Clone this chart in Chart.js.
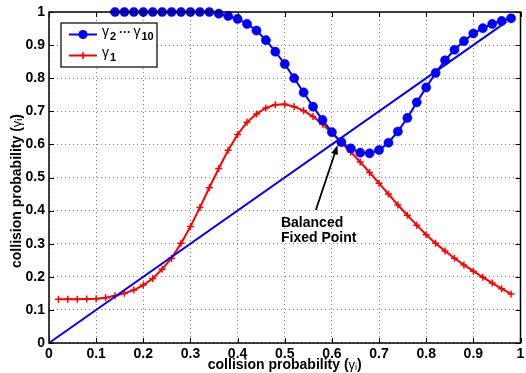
<!DOCTYPE html>
<html>
<head>
<meta charset="UTF-8">
<title>collision probability</title>
<script src="https://cdn.jsdelivr.net/npm/chart.js"></script>
<style>
  html, body { margin: 0; padding: 0; background: #fff; }
  canvas { display: block; }
</style>
</head>
<body>
<canvas id="c" width="526" height="373"></canvas>
<script>
// gamma_1 (red, plus markers)
const redX = [0.02,0.04,0.06,0.08,0.10,0.12,0.14,0.16,0.18,0.20,0.22,0.24,0.26,0.28,
  0.30,0.32,0.34,0.36,0.38,0.40,0.42,0.44,0.46,0.48,0.50,0.52,0.54,0.56,0.58,0.60,
  0.62,0.64,0.66,0.68,0.70,0.72,0.74,0.76,0.78,0.80,0.82,0.84,0.86,
  0.88,0.90,0.92,0.94,0.96,0.98];
const redY = [0.132,0.132,0.132,0.133,0.134,0.137,0.143,0.150,0.160,0.175,0.195,0.223,0.256,0.301,
  0.352,0.409,0.469,0.527,0.582,0.630,0.667,0.692,0.710,0.720,0.721,0.714,0.702,0.684,0.661,0.634,
  0.605,0.577,0.547,0.515,0.483,0.450,0.417,0.386,0.356,0.327,0.301,0.278,0.256,
  0.236,0.217,0.199,0.181,0.164,0.148];

// gamma_2 ... gamma_10 (blue, circles)
const blueX = [0.14,0.16,0.18,0.20,0.22,0.24,0.26,0.28,0.30,0.32,0.34,
  0.36,0.38,0.40,0.42,0.44,0.46,0.48,0.50,0.52,0.54,0.56,0.58,0.60,0.62,0.64,0.66,
  0.68,0.70,0.72,0.74,0.76,0.78,0.80,0.82,0.84,0.86,0.88,0.90,0.92,0.94,0.96,0.98];
const blueY = [1,1,1,1,1,1,1,1,1,1,1,
  0.995,0.988,0.979,0.964,0.944,0.915,0.880,0.843,0.800,0.757,0.714,0.674,0.637,0.607,0.588,0.575,
  0.573,0.583,0.605,0.639,0.680,0.727,0.772,0.816,0.854,0.886,0.912,0.935,0.951,0.964,0.973,0.981];

// y = x reference line
const diagX = [0, 0.97];
const diagY = [0, 0.97];

const xTicks = [0,0.1,0.2,0.3,0.4,0.5,0.6,0.7,0.8,0.9,1];
const yTicks = [0,0.1,0.2,0.3,0.4,0.5,0.6,0.7,0.8,0.9,1];
const tickLabels = ['0','0.1','0.2','0.3','0.4','0.5','0.6','0.7','0.8','0.9','1'];

const pts = (xs, ys) => xs.map((x, i) => ({x: x, y: ys[i]}));
const FONT = '"Liberation Sans", Arial, Helvetica, sans-serif';

// text with subscripts: parts = [[text, font, dy], ...]
function richText(ctx, parts, x, y) {
  let w = 0;
  parts.forEach(p => { ctx.font = p[1]; w += ctx.measureText(p[0]).width; });
  let cx = x - w / 2;
  parts.forEach(p => {
    ctx.font = p[1];
    ctx.fillText(p[0], cx, y + (p[2] || 0));
    cx += ctx.measureText(p[0]).width;
  });
}

const decor = {
  id: 'decor',
  afterDatasetsDraw(chart) {
    const ctx = chart.ctx;
    const a = chart.chartArea;
    const sx = chart.scales.x, sy = chart.scales.y;
    ctx.save();
    ctx.strokeStyle = '#000';
    ctx.lineWidth = 1;
    // inward tick marks
    ctx.beginPath();
    xTicks.forEach(v => {
      const px = Math.round(sx.getPixelForValue(v)) + 0.5;
      ctx.moveTo(px, a.bottom); ctx.lineTo(px, a.bottom - 5);
      ctx.moveTo(px, a.top); ctx.lineTo(px, a.top + 5);
    });
    yTicks.forEach(v => {
      const py = Math.round(sy.getPixelForValue(v)) + 0.5;
      ctx.moveTo(a.left, py); ctx.lineTo(a.left + 5, py);
      ctx.moveTo(a.right, py); ctx.lineTo(a.right - 5, py);
    });
    ctx.stroke();
    // box
    ctx.lineWidth = 1.5;
    ctx.strokeRect(a.left, a.top, a.right - a.left, a.bottom - a.top);

    // arrow to the fixed point
    const x0 = sx.getPixelForValue(0.566), y0 = sy.getPixelForValue(0.402);
    const x1 = sx.getPixelForValue(0.612), y1 = sy.getPixelForValue(0.598);
    const ang = Math.atan2(y1 - y0, x1 - x0);
    ctx.lineWidth = 1.8;
    ctx.beginPath();
    ctx.moveTo(x0, y0);
    ctx.lineTo(x1 - 7 * Math.cos(ang), y1 - 7 * Math.sin(ang));
    ctx.stroke();
    ctx.fillStyle = '#000';
    ctx.beginPath();
    ctx.moveTo(x1, y1);
    ctx.lineTo(x1 - 10 * Math.cos(ang - 0.35), y1 - 10 * Math.sin(ang - 0.35));
    ctx.lineTo(x1 - 10 * Math.cos(ang + 0.35), y1 - 10 * Math.sin(ang + 0.35));
    ctx.closePath();
    ctx.fill();

    ctx.font = 'bold 14px ' + FONT;
    ctx.textBaseline = 'middle';
    ctx.textAlign = 'left';
    const tx = sx.getPixelForValue(0.492);
    ctx.fillText('Balanced', tx, sy.getPixelForValue(0.361));
    ctx.fillText('Fixed Point', tx, sy.getPixelForValue(0.318));

    // legend
    ctx.fillStyle = '#fff';
    ctx.fillRect(61, 23, 96, 44);
    ctx.lineWidth = 1.2;
    ctx.strokeStyle = '#000';
    ctx.strokeRect(61, 23, 96, 44);
    ctx.lineWidth = 2;
    ctx.strokeStyle = '#0000ff';
    ctx.beginPath(); ctx.moveTo(69, 34.5); ctx.lineTo(97, 34.5); ctx.stroke();
    ctx.fillStyle = '#0000ff';
    ctx.beginPath(); ctx.arc(83, 34.5, 4.6, 0, Math.PI * 2); ctx.fill();
    ctx.strokeStyle = '#ff0000';
    ctx.beginPath(); ctx.moveTo(69, 55.5); ctx.lineTo(97, 55.5); ctx.stroke();
    ctx.lineWidth = 1.5;
    ctx.beginPath();
    ctx.moveTo(79.5, 55.5); ctx.lineTo(86.5, 55.5);
    ctx.moveTo(83, 52); ctx.lineTo(83, 59);
    ctx.stroke();

    ctx.fillStyle = '#000';
    ctx.textAlign = 'left';
    ctx.textBaseline = 'alphabetic';
    const g = '14px ' + FONT, s = 'bold 11px ' + FONT;
    ctx.font = g; ctx.fillText('\u03b3', 102, 36);
    ctx.font = s; ctx.fillText('2', 110, 40);
    ctx.font = 'bold 12px ' + FONT; ctx.fillText('\u00b7\u00b7\u00b7', 119, 36);
    ctx.font = g; ctx.fillText('\u03b3', 133.5, 36);
    ctx.font = s; ctx.fillText('10', 141.5, 40);
    ctx.font = g; ctx.fillText('\u03b3', 102, 57);
    ctx.font = s; ctx.fillText('1', 110, 61);

    // axis titles
    const tf = 'bold 14px ' + FONT, gf = '13px ' + FONT, sf = '9px ' + FONT;
    const title = [['collision probability (', tf], ['\u03b3', gf], ['i', sf, 3], [')', tf]];
    ctx.textBaseline = 'middle';
    richText(ctx, title, (a.left + a.right) / 2, 365);
    ctx.translate(17, 191);
    ctx.rotate(-Math.PI / 2);
    richText(ctx, title, 0, 0);
    ctx.restore();
  }
};

new Chart(document.getElementById('c'), {
  type: 'line',
  data: {
    datasets: [
      {
        label: '\u03b3\u2082 \u00b7\u00b7\u00b7 \u03b3\u2081\u2080',
        data: pts(blueX, blueY),
        borderColor: '#0000ff',
        backgroundColor: '#0000ff',
        borderWidth: 2,
        pointStyle: 'circle',
        pointRadius: 4.6,
        pointBorderWidth: 0.5,
        clip: false
      },
      {
        label: 'y = x',
        data: pts(diagX, diagY),
        borderColor: '#0000ff',
        borderWidth: 2,
        pointRadius: 0,
        clip: false
      },
      {
        label: '\u03b3\u2081',
        data: pts(redX, redY),
        borderColor: '#ff0000',
        backgroundColor: '#ff0000',
        borderWidth: 2,
        pointStyle: 'cross',
        pointRadius: 3.5,
        pointBorderWidth: 1.5,
        clip: false
      }
    ]
  },
  options: {
    responsive: false,
    animation: false,
    devicePixelRatio: 1,
    layout: { padding: { top: 12, right: 2.5, left: 0, bottom: 0 } },
    plugins: { legend: { display: false }, tooltip: { enabled: false } },
    scales: {
      x: {
        type: 'linear',
        min: 0, max: 1,
        afterBuildTicks: s => { s.ticks = xTicks.map(v => ({value: v})); },
        afterFit: s => { s.height = 30; s.paddingLeft = 0; s.paddingRight = 0; },
        ticks: {
          padding: 3,
          maxRotation: 0,
          autoSkip: false,
          color: '#000',
          font: { family: FONT, size: 14, weight: 'bold' },
          callback: (v, i) => tickLabels[i]
        },
        grid: { color: '#8a8a8a', drawTicks: false, lineWidth: 1 },
        border: { display: false, dash: [1, 3] }
      },
      y: {
        type: 'linear',
        min: 0, max: 1,
        afterBuildTicks: s => { s.ticks = yTicks.map(v => ({value: v})); },
        afterFit: s => { s.width = 49; s.paddingTop = 0; s.paddingBottom = 0; },
        ticks: {
          padding: 4,
          autoSkip: false,
          color: '#000',
          font: { family: FONT, size: 14, weight: 'bold' },
          callback: (v, i) => tickLabels[i]
        },
        grid: { color: '#8a8a8a', drawTicks: false, lineWidth: 1 },
        border: { display: false, dash: [1, 3] }
      }
    }
  },
  plugins: [decor]
});
</script>
</body>
</html>
